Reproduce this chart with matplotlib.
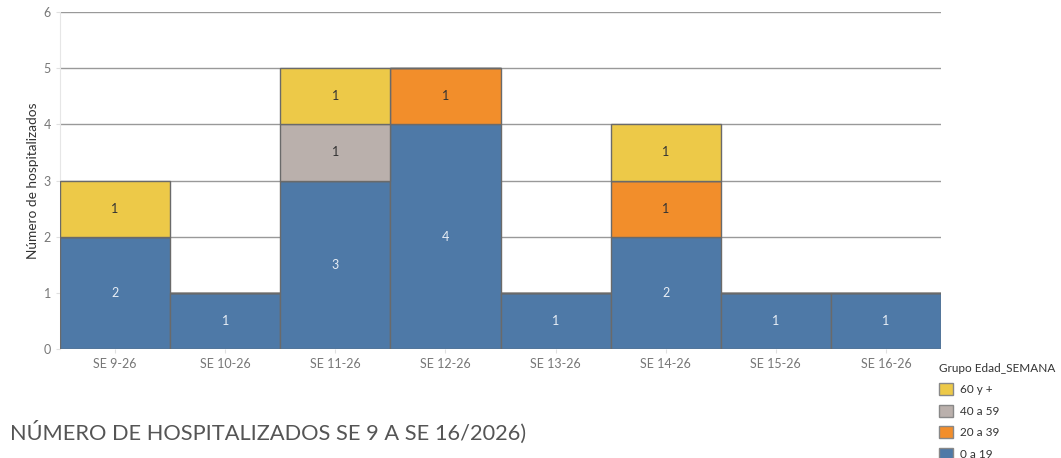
import matplotlib
matplotlib.use("Agg")
import matplotlib.pyplot as plt
import numpy as np
from matplotlib.patches import Patch

plt.rcParams["font.family"] = ["Lato", "DejaVu Sans"]

weeks = ["SE 9-26", "SE 10-26", "SE 11-26", "SE 12-26",
         "SE 13-26", "SE 14-26", "SE 15-26", "SE 16-26"]
groups = ["0 a 19", "20 a 39", "40 a 59", "60 y +"]
val_0_19 = [2, 1, 3, 4, 1, 2, 1, 1]
val_20_39 = [0, 0, 0, 1, 0, 1, 0, 0]
val_40_59 = [0, 0, 1, 0, 0, 0, 0, 0]
val_60 = [1, 0, 1, 0, 0, 1, 0, 0]
colors = ["#4E79A7", "#F28E2B", "#BAB0AC", "#EDC948"]
text_colors = ["#e8eef5", "#333333", "#333333", "#333333"]

series = [val_0_19, val_20_39, val_40_59, val_60]

fig = plt.figure(figsize=(10.61, 4.58), dpi=100)
ax = fig.add_axes([60 / 1061, 109 / 458, 881 / 1061, 337 / 458])

x = np.arange(len(weeks))
bottom = np.zeros(len(weeks))
for vals, col, tcol in zip(series, colors, text_colors):
    vals = np.array(vals, dtype=float)
    ax.bar(x, vals, width=1.0, bottom=bottom, color=col,
           edgecolor="#6a6a6a", linewidth=1.0, zorder=3)
    for xi, v, b in zip(x, vals, bottom):
        if v > 0:
            ax.text(xi, b + v / 2, f"{int(v)}", ha="center", va="center",
                    fontsize=9, color=tcol, zorder=4)
    bottom += vals

ax.set_xlim(-0.5, len(weeks) - 0.5)
ax.set_ylim(0, 6)
ax.set_yticks(range(7))
ax.set_xticks(x)
ax.set_xticklabels(weeks)
ax.tick_params(axis="both", colors="#e0e0e0", labelcolor="#777777",
               labelsize=9, length=3)
ax.yaxis.grid(True, color="#999999", linewidth=1.0, zorder=1)
for side in ["top", "right", "bottom"]:
    ax.spines[side].set_visible(False)
ax.spines["left"].set_color("#e6e6e6")
ax.set_ylabel("Número de hospitalizados", fontsize=9.8, color="#333333",
              labelpad=3)

handles = [Patch(facecolor=c, edgecolor="#888888", label=g)
           for g, c in zip(groups[::-1], colors[::-1])]
leg = fig.legend(handles=handles, loc="upper left",
                 bbox_to_anchor=(934 / 1061, 1 - 358 / 458),
                 frameon=False, fontsize=8.5, title="Grupo Edad_SEMANA",
                 title_fontsize=8.5, alignment="left", handlelength=1.2,
                 handleheight=1.2, labelspacing=0.8, handletextpad=0.6,
                 borderaxespad=0)
for t in leg.get_texts():
    t.set_color("#333333")
leg.get_title().set_color("#333333")

fig.text(10 / 1061, 1 - 432 / 458, "NÚMERO DE HOSPITALIZADOS SE 9 A SE 16/2026)",
         fontsize=15.7, color="#555555", va="center", ha="left")

fig.savefig("out.png", dpi=100)
